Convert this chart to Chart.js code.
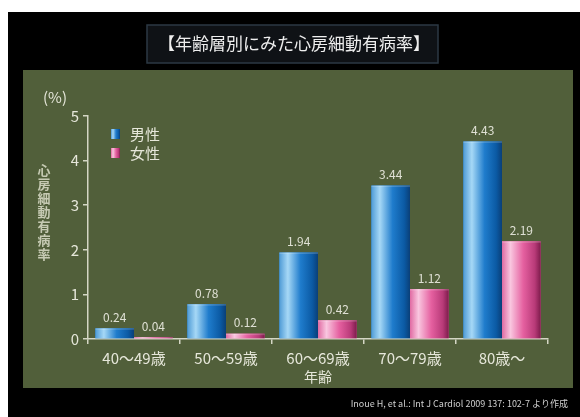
<!DOCTYPE html>
<html>
<head>
<meta charset="utf-8">
<script src="https://cdn.jsdelivr.net/npm/chart.js@4/dist/chart.umd.min.js"></script>
<style>
  html, body { margin: 0; padding: 0; background: #fff; }
  #wrap { width: 580px; height: 417px; }
</style>
</head>
<body>
<div id="wrap"><canvas id="chart" width="580" height="417"></canvas></div>
<script>
// データ
const ageGroups = ['40～49歳', '50～59歳', '60～69歳', '70～79歳', '80歳～'];
const maleRates = [0.24, 0.78, 1.94, 3.44, 4.43];
const femaleRates = [0.04, 0.12, 0.42, 1.12, 2.19];
const seriesNames = ['男性', '女性'];
const yTicks = [0, 1, 2, 3, 4, 5];

const chartTitle = '【年齢層別にみた心房細動有病率】';
const yTitle = '心房細動有病率';
const xTitle = '年齢';
const unitLabel = '(%)';
const sourceNote = 'Inoue H, et al.: Int J Cardiol 2009 137: 102-7 より作成';

const FONT = '"Noto Sans CJK JP", "Noto Sans", sans-serif';
const AXIS_COLOR = '#d4d6c4';
const TEXT_COLOR = '#e6e7da';

// 円柱っぽいグラデーション
const gradStops = [
  [[0, '#4f9bd6'], [0.22, '#a6d8f6'], [0.55, '#1f7ccc'], [0.85, '#0b5aa4'], [1, '#0a3f78']],
  [[0, '#e06aa2'], [0.22, '#f9c6df'], [0.55, '#e560a0'], [0.85, '#b83a78'], [1, '#7e1c4c']]
];

function makeGradient(ctx, x0, x1, stops) {
  const g = ctx.createLinearGradient(x0, 0, x1, 0);
  stops.forEach(s => g.addColorStop(s[0], s[1]));
  return g;
}

// 背景・枠・タイトルなど
const framePlugin = {
  id: 'frame',
  beforeDraw(chart) {
    const ctx = chart.ctx;
    ctx.save();
    ctx.fillStyle = '#ffffff';
    ctx.fillRect(0, 0, 580, 417);
    ctx.fillStyle = '#000000';
    ctx.fillRect(8, 12, 572, 405);
    ctx.fillStyle = '#515f3a';
    ctx.fillRect(23, 70, 550, 318);

    // タイトルボックス
    ctx.fillStyle = '#0f1216';
    ctx.fillRect(147, 25, 291, 38);
    ctx.strokeStyle = '#2c3944';
    ctx.lineWidth = 1.5;
    ctx.strokeRect(147, 25, 291, 38);
    ctx.fillStyle = '#eeeeee';
    ctx.font = '17px ' + FONT;
    ctx.textAlign = 'center';
    ctx.textBaseline = 'middle';
    ctx.fillText(chartTitle, 294, 44);
    ctx.restore();
  },
  afterDraw(chart) {
    const ctx = chart.ctx;
    const area = chart.chartArea;
    ctx.save();
    ctx.fillStyle = TEXT_COLOR;
    ctx.font = '15px ' + FONT;
    ctx.textAlign = 'left';
    ctx.textBaseline = 'middle';
    ctx.fillText(unitLabel, 43, 97);

    // 縦書きの軸タイトル
    ctx.fillStyle = '#c6cab3';
    ctx.font = 'bold 13px ' + FONT;
    ctx.textAlign = 'center';
    Array.from(yTitle).forEach((ch, i) => {
      ctx.fillText(ch, 44, 170 + i * 14);
    });

    // x軸タイトル
    ctx.fillStyle = TEXT_COLOR;
    ctx.font = '14px ' + FONT;
    ctx.fillText(xTitle, (area.left + area.right) / 2, 377);

    // 出典
    ctx.fillStyle = '#cfcfcf';
    ctx.font = '9px ' + FONT;
    ctx.textAlign = 'right';
    ctx.fillText(sourceNote, 568, 404);

    // 凡例
    ctx.font = '15px ' + FONT;
    ctx.textAlign = 'left';
    seriesNames.forEach((name, i) => {
      const y = 134 + i * 19;
      ctx.fillStyle = makeGradient(ctx, 111, 120, gradStops[i]);
      ctx.fillRect(111, y - 5, 9, 10);
      ctx.fillStyle = TEXT_COLOR;
      ctx.fillText(name, 130, y);
    });
    ctx.restore();
  }
};

// 棒のグラデーションと数値ラベル
const barPlugin = {
  id: 'barStyle',
  afterDatasetsDraw(chart) {
    const ctx = chart.ctx;
    ctx.save();
    chart.data.datasets.forEach((ds, di) => {
      const meta = chart.getDatasetMeta(di);
      meta.data.forEach((el, i) => {
        const p = el.getProps(['x', 'y', 'base', 'width'], true);
        const x0 = p.x - p.width / 2;
        const x1 = p.x + p.width / 2;
        ctx.fillStyle = makeGradient(ctx, x0, x1, gradStops[di]);
        ctx.fillRect(x0, p.y, p.width, p.base - p.y);
        // 上端のハイライト
        ctx.fillStyle = 'rgba(255,255,255,0.18)';
        ctx.fillRect(x0, p.y, p.width, 1.5);

        ctx.fillStyle = '#dfe0d4';
        ctx.font = '12px ' + FONT;
        ctx.textAlign = 'center';
        ctx.textBaseline = 'bottom';
        ctx.fillText(ds.data[i].toFixed(2), p.x, p.y - 5);
      });
    });
    ctx.restore();
  }
};

const ctx = document.getElementById('chart').getContext('2d');
new Chart(ctx, {
  type: 'bar',
  data: {
    labels: ageGroups,
    datasets: [
      { label: seriesNames[0], data: maleRates, backgroundColor: '#1f7ccc' },
      { label: seriesNames[1], data: femaleRates, backgroundColor: '#e560a0' }
    ]
  },
  options: {
    responsive: false,
    animation: false,
    devicePixelRatio: 1,
    layout: { padding: { left: 0, right: 32, top: 116, bottom: 0 } },
    datasets: { bar: { categoryPercentage: 0.84, barPercentage: 1.0 } },
    plugins: {
      legend: { display: false },
      tooltip: { enabled: false },
      title: { display: false }
    },
    scales: {
      x: {
        grid: {
          display: true, drawOnChartArea: false, drawTicks: true,
          tickLength: 5, color: AXIS_COLOR, lineWidth: 1.5, offset: true
        },
        border: { display: true, color: AXIS_COLOR, width: 1.5 },
        ticks: {
          color: TEXT_COLOR, padding: 5,
          font: { family: FONT, size: 15 },
          maxRotation: 0, autoSkip: false
        },
        afterFit(scale) { scale.height = 78; }
      },
      y: {
        min: yTicks[0],
        max: yTicks[yTicks.length - 1],
        afterBuildTicks(scale) { scale.ticks = yTicks.map(v => ({ value: v })); },
        grid: {
          display: true, drawOnChartArea: false, drawTicks: true,
          tickLength: 5, color: AXIS_COLOR, lineWidth: 1.5
        },
        border: { display: true, color: AXIS_COLOR, width: 1.5 },
        ticks: {
          color: TEXT_COLOR, padding: 4,
          font: { family: FONT, size: 15 }
        },
        afterFit(scale) { scale.width = 88; }
      }
    }
  },
  plugins: [framePlugin, barPlugin]
});
</script>
</body>
</html>
